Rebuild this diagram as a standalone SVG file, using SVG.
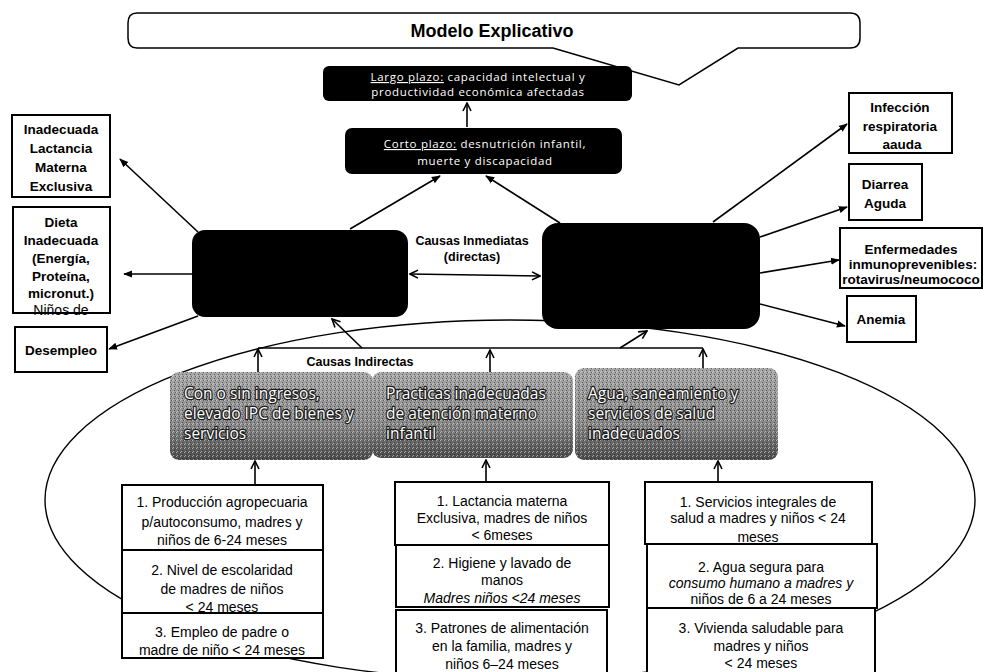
<svg xmlns="http://www.w3.org/2000/svg" width="983" height="672" viewBox="0 0 983 672">
<defs>
<style>
.bk{fill:#000}
.wt{font-family:"Open Sans","Liberation Sans",sans-serif;font-size:11.5px;fill:#fff;letter-spacing:0.7px;text-anchor:middle}
.bx{fill:#fff;stroke:#000;stroke-width:2}
.sb{font-family:"Liberation Sans",sans-serif;font-weight:bold;font-size:13.5px;text-anchor:middle;fill:#000}
.bt{font-family:"Liberation Sans",sans-serif;font-size:14px;text-anchor:middle;fill:#000}
.gt{font-family:"Open Sans","Liberation Sans",sans-serif;font-size:15.5px;fill:#fff;stroke:#1a1a1a;stroke-width:2.4;paint-order:stroke;stroke-linejoin:round}
.cn{fill:none;stroke:#000;stroke-width:1.6}
.lb{font-family:"Liberation Sans",sans-serif;font-weight:bold;font-size:12.5px;text-anchor:middle;fill:#000}
</style>
<marker id="ah" viewBox="0 0 10 10" refX="9" refY="5" markerWidth="9" markerHeight="9" markerUnits="userSpaceOnUse" orient="auto-start-reverse"><path d="M0,1 L10,5 L0,9 z" fill="#000"/></marker>
<marker id="ao" viewBox="0 0 10 10" refX="9" refY="5" markerWidth="10" markerHeight="10" markerUnits="userSpaceOnUse" orient="auto-start-reverse"><path d="M1,1 L9,5 L1,9" fill="none" stroke="#000" stroke-width="1.6"/></marker>
<linearGradient id="gg" x1="0" y1="0" x2="0" y2="1"><stop offset="0" stop-color="#a8a8a8"/><stop offset="0.6" stop-color="#8a8a8a"/><stop offset="1" stop-color="#4a4a4a"/></linearGradient>
<pattern id="dots" width="4" height="4" patternUnits="userSpaceOnUse"><rect x="0" y="0" width="1" height="1" fill="#e0e0e0"/><rect x="2" y="2" width="1" height="1" fill="#222"/><rect x="3" y="0" width="1" height="1" fill="#333"/><rect x="1" y="3" width="1" height="1" fill="#ddd"/></pattern>
</defs>
<rect width="983" height="672" fill="#fff"/>

<g id="ellipse"><ellipse cx="510" cy="500" rx="465" ry="180" fill="none" stroke="#000" stroke-width="1.4"/></g>

<g id="title">
<path d="M137 13 H850 Q860 13 860 23 V38 Q860 48 850 48 H738 L679 85 L553 48 H137 Q128 48 128 38 V23 Q128 13 137 13 Z" fill="#fff" stroke="#000" stroke-width="1.5"/>
<text x="492" y="37" font-family="Liberation Sans, sans-serif" font-weight="bold" font-size="18px" text-anchor="middle">Modelo Explicativo</text>
</g>

<g id="connectors">
<line class="cn" x1="467" y1="127" x2="467" y2="103" marker-end="url(#ao)"/>
<line class="cn" x1="350" y1="229" x2="440" y2="176" marker-end="url(#ah)"/>
<line class="cn" x1="560" y1="223" x2="486" y2="176" marker-end="url(#ah)"/>
<line class="cn" x1="410" y1="274" x2="540" y2="276" marker-start="url(#ao)" marker-end="url(#ao)"/>
<line class="cn" x1="198" y1="232" x2="120" y2="159" marker-end="url(#ah)"/>
<line class="cn" x1="192" y1="274" x2="124" y2="274" marker-end="url(#ah)"/>
<line class="cn" x1="198" y1="316" x2="109" y2="349" marker-end="url(#ah)"/>
<line class="cn" x1="713" y1="222" x2="847" y2="124" marker-end="url(#ah)"/>
<line class="cn" x1="760" y1="237" x2="847" y2="207" marker-end="url(#ah)"/>
<line class="cn" x1="760" y1="273" x2="839" y2="260" marker-end="url(#ah)"/>
<line class="cn" x1="760" y1="304" x2="845" y2="326" marker-end="url(#ah)"/>
<line class="cn" x1="258" y1="348" x2="703" y2="348"/>
<line class="cn" x1="258" y1="372" x2="258" y2="349" marker-end="url(#ao)"/>
<line class="cn" x1="490" y1="372" x2="490" y2="350" marker-end="url(#ao)"/>
<line class="cn" x1="703" y1="368" x2="703" y2="349" marker-end="url(#ao)"/>
<line class="cn" x1="362" y1="348" x2="332" y2="319" marker-end="url(#ao)"/>
<line class="cn" x1="620" y1="348" x2="647" y2="331" marker-end="url(#ao)"/>
<line class="cn" x1="255" y1="484" x2="255" y2="461" marker-end="url(#ao)"/>
<line class="cn" x1="486" y1="482" x2="486" y2="460" marker-end="url(#ao)"/>
<line class="cn" x1="718" y1="482" x2="718" y2="461" marker-end="url(#ao)"/>
</g>

<g id="largo-plazo">
<rect class="bk" x="323" y="66" width="309" height="35" rx="6"/>
<text class="wt" x="478" y="81"><tspan text-decoration="underline">Largo plazo:</tspan> capacidad intelectual y</text>
<text class="wt" x="478" y="96">productividad económica afectadas</text>
</g>

<g id="corto-plazo">
<rect class="bk" x="345" y="128" width="277" height="46" rx="7"/>
<text class="wt" x="485" y="148" font-size="12px"><tspan text-decoration="underline">Corto plazo:</tspan> desnutrición infantil,</text>
<text class="wt" x="485" y="165" font-size="12px">muerte  y discapacidad</text>
</g>

<g id="causas-inmediatas-label">
<text class="lb" x="472" y="245">Causas Inmediatas</text>
<text class="lb" x="472" y="261">(directas)</text>
</g>

<g id="black-left"><rect class="bk" x="192" y="230" width="216" height="87" rx="13"/></g>
<g id="black-right"><rect class="bk" x="542" y="223" width="218" height="106" rx="16"/></g>

<g id="inadecuada-lactancia">
<rect class="bx" x="12" y="115" width="98" height="82"/>
<text class="sb" x="61" y="134">Inadecuada</text>
<text class="sb" x="61" y="153">Lactancia</text>
<text class="sb" x="61" y="172">Materna</text>
<text class="sb" x="61" y="191">Exclusiva</text>
</g>

<g id="dieta">
<rect class="bx" x="13" y="207" width="97" height="106"/>
<text class="sb" x="61" y="227">Dieta</text>
<text class="sb" x="61" y="245">Inadecuada</text>
<text class="sb" x="61" y="263">(Energía,</text>
<text class="sb" x="61" y="281">Proteína,</text>
<text class="sb" x="61" y="298">micronut.)</text>
<text class="bt" x="61" y="315" font-size="13.5px">Niños de</text>
</g>

<g id="desempleo">
<rect class="bx" x="15" y="327" width="92" height="45"/>
<text class="sb" x="61" y="355">Desempleo</text>
</g>

<g id="infeccion">
<rect class="bx" x="849" y="93" width="103" height="60"/>
<text class="sb" x="900" y="112">Infección</text>
<text class="sb" x="900" y="131">respiratoria</text>
<text class="sb" x="902" y="149">aauda</text>
</g>

<g id="diarrea">
<rect class="bx" x="849" y="164" width="73" height="56"/>
<text class="sb" x="885" y="189">Diarrea</text>
<text class="sb" x="885" y="208">Aguda</text>
</g>

<g id="enfermedades">
<rect class="bx" x="840" y="228" width="142" height="60"/>
<text class="sb" x="911" y="254" font-size="12.5px">Enfermedades</text>
<text class="sb" x="913" y="269" font-size="12.5px">inmunoprevenibles:</text>
<text class="sb" x="911" y="284" font-size="12.5px">rotavirus/neumococo</text>
</g>

<g id="anemia">
<rect class="bx" x="847" y="296" width="69" height="46"/>
<text class="sb" x="881" y="324" font-size="12.5px">Anemia</text>
</g>

<g id="causas-indirectas-label">
<text class="lb" x="360" y="366" font-size="12px">Causas Indirectas</text>
</g>

<g id="gris-ingresos">
<rect x="170" y="372" width="203" height="88" rx="9" fill="url(#gg)"/>
<rect x="170" y="372" width="203" height="88" rx="9" fill="url(#dots)" opacity="0.6"/>
<text class="gt" x="184" y="399">Con o sin ingresos,</text>
<text class="gt" x="184" y="419">elevado IPC de bienes y</text>
<text class="gt" x="184" y="439">servicios</text>
</g>

<g id="gris-practicas">
<rect x="372" y="372" width="201" height="86" rx="9" fill="url(#gg)"/>
<rect x="372" y="372" width="201" height="86" rx="9" fill="url(#dots)" opacity="0.6"/>
<text class="gt" x="386" y="399">Practicas  inadecuadas</text>
<text class="gt" x="386" y="419">de atención materno</text>
<text class="gt" x="386" y="439">infantil</text>
</g>

<g id="gris-agua">
<rect x="575" y="368" width="203" height="92" rx="9" fill="url(#gg)"/>
<rect x="575" y="368" width="203" height="92" rx="9" fill="url(#dots)" opacity="0.6"/>
<text class="gt" x="588" y="399">Agua,  saneamiento y</text>
<text class="gt" x="588" y="419">servicios  de salud</text>
<text class="gt" x="588" y="439">inadecuados</text>
</g>

<g id="c1-produccion">
<rect class="bx" x="122" y="485" width="201" height="65"/>
<text class="bt" x="222" y="507">1. Producción agropecuaria</text>
<text class="bt" x="222" y="527">p/autoconsumo, madres y</text>
<text class="bt" x="222" y="545">niños de 6-24 meses</text>
</g>
<g id="c1-escolaridad">
<rect class="bx" x="122" y="550" width="201" height="63"/>
<text class="bt" x="222" y="575" font-size="16px">2. Nivel de escolaridad</text>
<text class="bt" x="222" y="594" font-size="16px">de madres de niños</text>
<text class="bt" x="222" y="612" font-size="16px">&lt; 24 meses</text>
</g>
<g id="c1-empleo">
<rect class="bx" x="122" y="613" width="201" height="45"/>
<text class="bt" x="222" y="637">3. Empleo de padre o</text>
<text class="bt" x="222" y="655">madre de niño &lt; 24 meses</text>
</g>

<g id="c2-lactancia">
<rect class="bx" x="395" y="482" width="214" height="63"/>
<text class="bt" x="502" y="506">1. Lactancia materna</text>
<text class="bt" x="502" y="523">Exclusiva, madres de niños</text>
<text class="bt" x="502" y="540">&lt; 6meses</text>
</g>
<g id="c2-higiene">
<rect class="bx" x="396" y="545" width="213" height="62"/>
<text class="bt" x="502" y="568">2. Higiene y lavado       de</text>
<text class="bt" x="502" y="585">manos</text>
<text class="bt" x="502" y="603" font-style="italic">Madres niños &lt;24 meses</text>
</g>
<g id="c2-patrones">
<rect class="bx" x="396" y="610" width="211" height="70"/>
<text class="bt" x="502" y="633">3. Patrones de alimentación</text>
<text class="bt" x="502" y="651">en la familia, madres y</text>
<text class="bt" x="502" y="669">niños 6–24 meses</text>
</g>

<g id="c3-servicios">
<rect class="bx" x="645" y="482" width="227" height="62"/>
<text class="bt" x="758" y="507">1. Servicios integrales de</text>
<text class="bt" x="758" y="523">salud a madres y niños &lt; 24</text>
<text class="bt" x="758" y="542">meses</text>
</g>
<g id="c3-agua">
<rect class="bx" x="647" y="544" width="230" height="64"/>
<text class="bt" x="761" y="572">2. Agua segura para</text>
<text class="bt" x="761" y="588" font-style="italic">consumo humano a madres y</text>
<text class="bt" x="761" y="604">niños de 6 a 24 meses</text>
</g>
<g id="c3-vivienda">
<rect class="bx" x="647" y="608" width="228" height="72"/>
<text class="bt" x="761" y="633">3. Vivienda saludable para</text>
<text class="bt" x="761" y="651">madres y niños</text>
<text class="bt" x="761" y="668">&lt; 24 meses</text>
</g>
</svg>
